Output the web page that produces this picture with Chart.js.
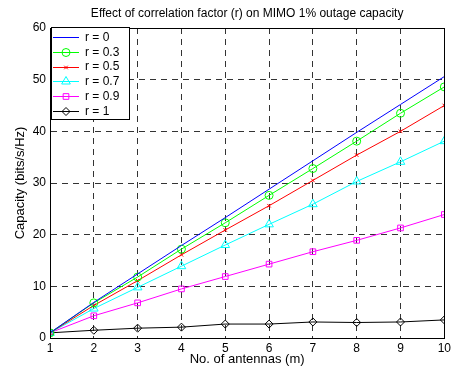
<!DOCTYPE html>
<html>
<head>
<meta charset="utf-8">
<script src="https://cdn.jsdelivr.net/npm/chart.js@4/dist/chart.umd.min.js"></script>
<style>
  html, body { margin: 0; padding: 0; background: #fff; }
  #wrap { width: 454px; height: 372px; }
</style>
</head>
<body>
<div id="wrap"><canvas id="capChart" width="454" height="372"></canvas></div>
<script>
// number of antennas
const antennas = [1, 2, 3, 4, 5, 6, 7, 8, 9, 10];
// 1% outage capacity (bits/s/Hz)
const capR0  = [1.0, 6.9, 12.4, 17.9, 23.3, 28.8, 34.3, 39.8, 45.2, 50.6];
const capR03 = [1.0, 6.8, 11.8, 17.2, 22.3, 27.6, 32.8, 38.1, 43.5, 48.6];
const capR05 = [1.0, 6.3, 11.1, 16.1, 20.9, 25.6, 30.5, 35.4, 40.0, 45.0];
const capR07 = [1.0, 5.7, 9.8, 13.9, 18.0, 22.0, 25.9, 30.3, 34.1, 38.1];
const capR09 = [1.0, 4.3, 6.8, 9.5, 11.9, 14.3, 16.7, 18.9, 21.3, 23.9];
const capR1  = [1.0, 1.5, 1.9, 2.1, 2.7, 2.7, 3.1, 3.0, 3.1, 3.5];
const yTicks = [0, 10, 20, 30, 40, 50, 60];

const FONT = "'Liberation Sans', Arial, sans-serif";

function pts(ys) {
	return antennas.map((x, i) => ({ x: x, y: ys[i] }));
}

function series(label, ys, color, style, radius) {
	return {
		label: label,
		data: pts(ys),
		borderColor: color,
		backgroundColor: color,
		borderWidth: 1,
		pointStyle: style,
		pointRadius: radius,
		pointBorderColor: color,
		pointBackgroundColor: 'rgba(0,0,0,0)',
		pointBorderWidth: 1,
		tension: 0,
		fill: false
	};
}

// MATLAB style box around axes + legend inside the top-left corner
const boxLegend = {
	id: 'boxLegend',
	afterDraw(chart) {
		const ctx = chart.ctx;
		const a = chart.chartArea;
		ctx.save();
		ctx.strokeStyle = '#000';
		ctx.lineWidth = 1;
		ctx.setLineDash([]);
		ctx.strokeRect(Math.round(a.left) + 0.5, Math.round(a.top) + 0.5,
			Math.round(a.right - a.left), Math.round(a.bottom - a.top));

		const lx = Math.round(a.left) + 1, ly = Math.round(a.top) - 1;
		const w = 78, h = 92;
		ctx.fillStyle = '#fff';
		ctx.fillRect(lx, ly, w, h);
		ctx.strokeRect(lx + 0.5, ly + 0.5, w, h);

		ctx.font = '12px ' + FONT;
		ctx.textBaseline = 'middle';
		chart.data.datasets.forEach((ds, i) => {
			const y = ly + 10 + i * 14.8;
			ctx.strokeStyle = ds.borderColor;
			ctx.beginPath();
			ctx.moveTo(lx + 2, Math.round(y) + 0.5);
			ctx.lineTo(lx + 28, Math.round(y) + 0.5);
			ctx.stroke();
			if (ds.pointRadius > 0 && Chart.helpers && Chart.helpers.drawPoint) {
				ctx.fillStyle = 'rgba(0,0,0,0)';
				Chart.helpers.drawPoint(ctx, {
					pointStyle: ds.pointStyle,
					radius: ds.pointRadius,
					rotation: 0,
					borderWidth: 1
				}, lx + 15, Math.round(y) + 0.5);
			}
			ctx.fillStyle = '#000';
			ctx.fillText(ds.label, lx + 34, y + 0.5);
		});
		ctx.restore();
	}
};

new Chart(document.getElementById('capChart'), {
	type: 'line',
	data: {
		datasets: [
			series('r = 0', capR0, '#0000ff', false, 0),
			series('r = 0.3', capR03, '#00ff00', 'circle', 4),
			series('r = 0.5', capR05, '#ff0000', 'crossRot', 2.5),
			series('r = 0.7', capR07, '#00ffff', 'triangle', 5),
			series('r = 0.9', capR09, '#ff00ff', 'rect', 4),
			series('r = 1', capR1, '#000000', 'rectRot', 4)
		]
	},
	options: {
		responsive: false,
		animation: false,
		layout: { padding: { left: 0, right: 9, top: 0, bottom: 0 } },
		plugins: {
			legend: { display: false },
			tooltip: { enabled: false },
			title: {
				display: true,
				fullSize: false,
				text: 'Effect of correlation factor (r) on MIMO 1% outage capacity',
				color: '#000',
				font: { family: FONT, size: 12, weight: 'normal' },
				padding: { top: 6, bottom: 7.6 }
			}
		},
		scales: {
			x: {
				type: 'linear',
				min: 1,
				max: 10,
				ticks: {
					stepSize: 1,
					color: '#000',
					font: { family: FONT, size: 12 },
					padding: 3,
					maxRotation: 0
				},
				grid: { color: '#333', lineWidth: 1, drawTicks: false },
				border: { display: true, color: '#000', dash: [6, 5] },
				title: {
					display: true,
					text: 'No. of antennas (m)',
					color: '#000',
					font: { family: FONT, size: 13 },
					padding: { top: 0, bottom: 5 }
				},
				afterFit(scale) { scale.height = 34; }
			},
			y: {
				min: 0,
				max: 60,
				afterBuildTicks(scale) { scale.ticks = yTicks.map(v => ({ value: v })); },
				ticks: {
					color: '#000',
					font: { family: FONT, size: 12 },
					padding: 4
				},
				grid: { color: '#333', lineWidth: 1, drawTicks: false },
				border: { display: true, color: '#000', dash: [6, 5] },
				title: {
					display: true,
					text: 'Capacity (bits/s/Hz)',
					color: '#000',
					font: { family: FONT, size: 13 },
					padding: { top: 13, bottom: 0 }
				},
				afterFit(scale) { scale.width = 50; }
			}
		}
	},
	plugins: [boxLegend]
});
</script>
</body>
</html>
